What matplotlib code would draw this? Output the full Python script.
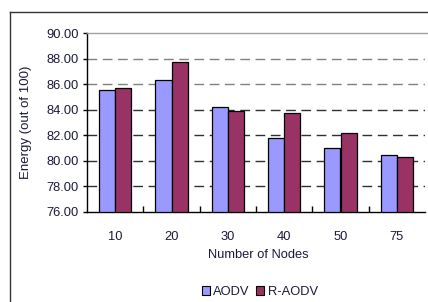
import matplotlib
matplotlib.use("Agg")
import matplotlib.pyplot as plt
import numpy as np
from matplotlib.lines import Line2D
from matplotlib.patches import Rectangle

categories = ["10", "20", "30", "40", "50", "75"]
aodv = [85.55, 86.3, 84.2, 81.77, 81.0, 80.47]
raodv = [85.68, 87.73, 83.9, 83.77, 82.16, 80.34]
series_names = ["AODV", "R-AODV"]
colors = ["#9999FF", "#993366"]

plt.rcParams['font.family'] = ['Liberation Sans', 'DejaVu Sans']
txtc = "#1a1a3a"

fig = plt.figure(figsize=(4.28, 3.02), dpi=100)
L, R, T, B = 87, 425, 33, 212
ax = fig.add_axes([L/428, 1-B/302, (R-L)/428, (B-T)/302])

x = np.arange(len(categories))
w = 0.285
ax.bar(x - w/2, np.array(aodv) - 76, w, bottom=76, color=colors[0], edgecolor="black", linewidth=0.9, zorder=3, label=series_names[0])
ax.bar(x + w/2, np.array(raodv) - 76, w, bottom=76, color=colors[1], edgecolor="black", linewidth=0.9, zorder=3, label=series_names[1])

ax.set_xlim(-0.5, len(categories) - 0.5)
ax.set_ylim(76, 90)
ax.set_yticks(np.arange(76, 90.01, 2))
ax.set_yticklabels([f"{v:.2f}" for v in np.arange(76, 90.01, 2)], fontsize=9.3, color=txtc)
ax.set_xticks(x)
ax.set_xticklabels(categories, fontsize=9.3, color=txtc)
ax.tick_params(axis='x', length=0, pad=14)
ax.set_xticks(np.arange(0.5, len(categories) - 0.5, 1), minor=True)
ax.tick_params(axis='x', which='minor', direction='in', length=4, width=1, color='black')
ax.tick_params(axis='y', direction='out', length=3, width=1, pad=3)

for v in np.arange(78, 89, 2):
    c = "#808080" if v >= 86 else "#303030"
    ax.axhline(v, color=c, linestyle=(0, (7, 4)), linewidth=1, zorder=1)

ax.spines['right'].set_visible(False)
ax.spines['top'].set_visible(False)
ax.spines['left'].set_color('black')
ax.spines['bottom'].set_color('black')
ax.spines['left'].set_linewidth(1)
ax.spines['bottom'].set_linewidth(1)
# top border line spanning to figure edge
fig.add_artist(Line2D([L/428, 0.999], [1-T/302, 1-T/302], transform=fig.transFigure, color='#a0a0a0', linewidth=1))

ax.set_ylabel("Energy (out of 100)", fontsize=9.5, color=txtc)
ax.yaxis.set_label_coords(-(L-32)/(R-L), 0.5)
fig.text(258/428, 1-255/302, "Number of Nodes", fontsize=9.3, color=txtc, ha='center', va='center')

# Legend
handles = [Rectangle((0, 0), 1, 1, facecolor=c, edgecolor='black', linewidth=0.8) for c in colors]
leg = fig.legend(handles, series_names, loc='center', bbox_to_anchor=(260/428, 1-292/302),
                 ncol=2, frameon=False, fontsize=9.3, handlelength=0.6, handleheight=0.6,
                 handletextpad=0.3, columnspacing=0.5, borderpad=0)
for t in leg.get_texts():
    t.set_color(txtc)

# Outer frame
fig.add_artist(Line2D([10/428, 10/428], [0, 1-12/302], transform=fig.transFigure, color='#333333', linewidth=1))
fig.add_artist(Line2D([10/428, 0.999], [1-12/302, 1-12/302], transform=fig.transFigure, color='#333333', linewidth=1))

fig.savefig("out.png", dpi=100)
